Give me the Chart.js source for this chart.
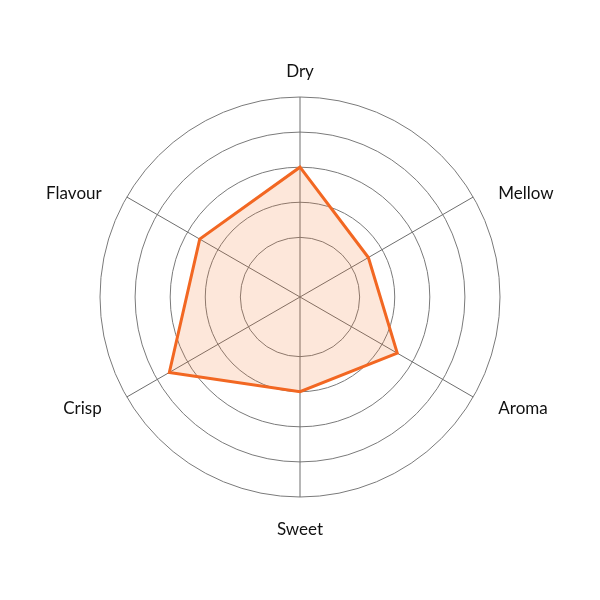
<!DOCTYPE html>
<html>
<head>
<meta charset="utf-8">
<script src="https://cdn.jsdelivr.net/npm/chart.js@4.4.1/dist/chart.umd.min.js"></script>
<style>
  html, body { margin: 0; padding: 0; background: #ffffff; }
  #wrap { width: 600px; height: 600px; }
</style>
</head>
<body>
<div id="wrap"><canvas id="c" width="600" height="600"></canvas></div>
<script>
const categories = ['Dry', 'Mellow', 'Aroma', 'Sweet', 'Crisp', 'Flavour'];
const tasteValues = [3.0, 1.55, 2.5, 2.0, 3.6, 2.6];
const ringValues = [1, 2, 3, 4, 5];
const scaleMin = -0.7;
const scaleMax = 5;

const labelPlugin = {
  id: 'axisLabels',
  afterDraw(chart) {
    const scale = chart.scales.r;
    const ctx = chart.ctx;
    const n = categories.length;
    ctx.save();
    ctx.font = '17px Lato, "Open Sans", sans-serif';
    ctx.fillStyle = '#111111';
    ctx.textBaseline = 'middle';
    categories.forEach((label, i) => {
      const px = scale.getPointPosition(i, scale.drawingArea + 29);
      const ang = Math.round(i * 360 / n);
      let align = 'center';
      let y = px.y;
      if (ang > 0 && ang < 180) align = 'left';
      else if (ang > 180) align = 'right';
      if (align !== 'center') {
        y = scale.getPointPosition(i, scale.drawingArea + 15).y;
      }
      ctx.textAlign = align;
      ctx.fillText(label, px.x, y + 4);
    });
    ctx.restore();
  }
};

new Chart(document.getElementById('c'), {
  type: 'radar',
  data: {
    labels: categories,
    datasets: [{
      data: tasteValues,
      borderColor: '#f26722',
      backgroundColor: 'rgba(242,110,34,0.17)',
      borderWidth: 3,
      borderJoinStyle: 'miter',
      pointRadius: 0,
      pointHoverRadius: 0,
      fill: 'start'
    }]
  },
  options: {
    responsive: false,
    animation: false,
    devicePixelRatio: 1,
    layout: { padding: { left: 100, right: 100, top: 97, bottom: 103 } },
    plugins: { legend: { display: false }, tooltip: { enabled: false } },
    scales: {
      r: {
        min: scaleMin,
        max: scaleMax,
        afterBuildTicks: (scale) => {
          scale.ticks = ringValues.map(v => ({ value: v }));
        },
        ticks: { display: false },
        pointLabels: { display: false },
        grid: { circular: true, color: '#7a7a7a', lineWidth: 1 },
        angleLines: { display: true, color: '#6e6e6e', lineWidth: 1 }
      }
    }
  },
  plugins: [labelPlugin]
});
</script>
</body>
</html>
